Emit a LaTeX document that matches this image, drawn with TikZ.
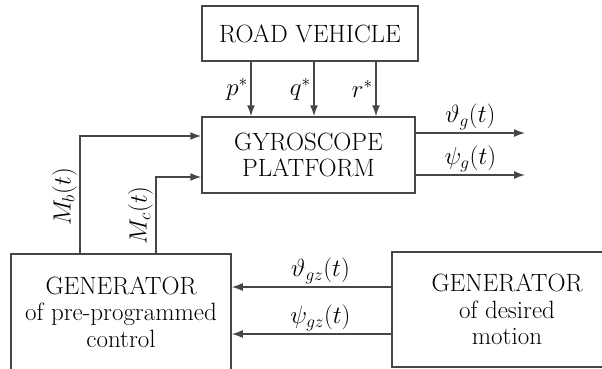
\documentclass[tikz,border=0pt]{standalone}
\usetikzlibrary{arrows.meta}

\tikzset{every picture/.style={line width=1.5pt}}
\definecolor{linegray}{RGB}{70,70,70}
\tikzset{
  block/.style={draw=linegray, align=center, inner sep=0pt, font=\rmfamily\fontsize{25}{26.5}\selectfont},
  arr/.style={draw=linegray, -{Latex[length=11pt,width=8pt]}},
  sig/.style={font=\fontsize{23}{26}\selectfont, inner sep=2.5pt}
}

\begin{document}
\begin{tikzpicture}[x=1pt,y=1pt,yscale=-1]
\useasboundingbox (0,0) rectangle (602,369);
\clip (0,0) rectangle (602,369);
%Blocks
\node[block, minimum width=216, minimum height=55] (vehicle) at (310,33.5) {ROAD VEHICLE};
\node[block, minimum width=213, minimum height=76] (gyro) at (308.5,155) {GYROSCOPE\\PLATFORM};
\node[block, minimum width=220, minimum height=116] (ctrl) at (121,312) {GENERATOR\\of pre-programmed\\control};
\node[block, minimum width=230, minimum height=115] (desired) at (507,309.5) {GENERATOR\\of desired\\motion};
%helper coordinates
\coordinate (p) at (251,0);
\coordinate (q) at (314,0);
\coordinate (r) at (376,0);
\coordinate (mb) at (80,0);
\coordinate (mc) at (156,0);
\coordinate (th) at (0,287);
\coordinate (ps) at (0,334);
\coordinate (thout) at (525,133);
\coordinate (psout) at (525,175);
%Straight Lines: vehicle to gyroscope
\draw[arr] (vehicle.south -| p) -- node[sig, left] {$p^*$} (gyro.north -| p);
\draw[arr] (vehicle.south -| q) -- node[sig, left] {$q^*$} (gyro.north -| q);
\draw[arr] (vehicle.south -| r) -- node[sig, left] {$r^*$} (gyro.north -| r);
%Straight Lines: outputs
\draw[arr] (gyro.east |- thout) -- node[sig, above] {$\vartheta_g(t)$} (thout);
\draw[arr] (gyro.east |- psout) -- node[sig, above] {$\psi_g(t)$} (psout);
%Straight Lines: control moments
\draw[arr] (ctrl.north -| mb) |- node[sig, rotate=90, above, pos=0.24] {$M_b(t)$} ([yshift=-19pt]gyro.west);
\draw[arr] (ctrl.north -| mc) |- node[sig, rotate=90, above, pos=0.25] {$M_c(t)$} ([yshift=22pt]gyro.west);
%Straight Lines: desired motion
\draw[arr] (desired.west |- th) -- node[sig, above, xshift=9pt] {$\vartheta_{gz}(t)$} (ctrl.east |- th);
\draw[arr] (desired.west |- ps) -- node[sig, above, xshift=9pt] {$\psi_{gz}(t)$} (ctrl.east |- ps);

\end{tikzpicture}
\end{document}
